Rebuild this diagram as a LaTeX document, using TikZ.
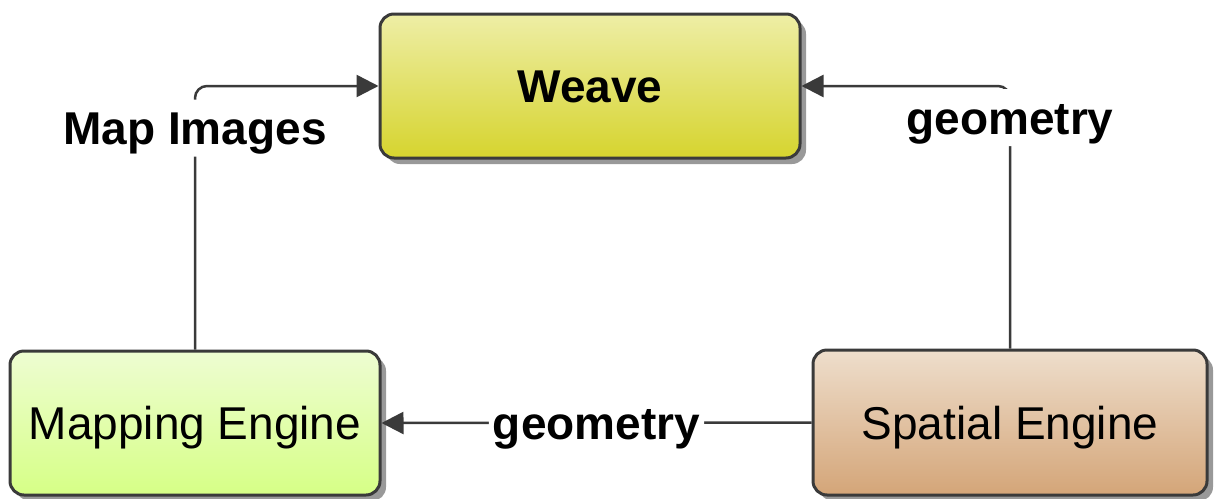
\documentclass[tikz,border=0pt]{standalone}
\usepackage{fontspec}
\setmainfont{Liberation Sans}
\usetikzlibrary{positioning, arrows.meta, shadows}

\definecolor{weavetop}{HTML}{EEEEA6}
\definecolor{weavebot}{HTML}{D6D42E}
\definecolor{maptop}{HTML}{EEFDD2}
\definecolor{mapbot}{HTML}{D6FF86}
\definecolor{spattop}{HTML}{EEDECC}
\definecolor{spatbot}{HTML}{D4A578}
\definecolor{edgegray}{HTML}{3A3A3A}

\begin{document}
\begin{tikzpicture}[
    font=\fontsize{23}{27}\selectfont,
    >={Triangle[length=11pt, width=11pt]},
    every node/.style={text height=16.5pt, text depth=0pt},
    block/.style={rectangle, rounded corners=7pt, draw=edgegray, line width=1.5pt, align=center,
        drop shadow={shadow xshift=3pt, shadow yshift=-3pt, fill=black!40, opacity=1}},
    arrow/.style={->, line width=1.25pt, draw=edgegray, rounded corners=6pt},
    tag/.style={fill=white, font=\fontsize{23}{27}\selectfont\bfseries, inner xsep=2pt, inner ysep=6pt}
]
\useasboundingbox (0pt,0pt) rectangle (607pt,-249pt);

% Nodes
\node[block, top color=weavetop, bottom color=weavebot, minimum width=210pt, minimum height=72pt,
    font=\fontsize{23}{27}\selectfont\bfseries] (weave) at (295pt,-43pt) {Weave};
\node[block, top color=maptop, bottom color=mapbot, minimum width=185pt, minimum height=72pt] (mapping) at (97.5pt,-211.5pt) {Mapping Engine};
\node[block, top color=spattop, bottom color=spatbot, minimum width=197pt, minimum height=72.5pt] (spatial) at (505pt,-211.25pt) {Spatial Engine};

% Connections
\draw[arrow] (mapping.north) |- node[tag, pos=0.42] {Map Images} (weave.west);
\draw[arrow] (spatial.north) |- node[tag, pos=0.44] {geometry} (weave.east);
\draw[arrow] (spatial.west) -- node[tag] {geometry} (mapping.east);

\end{tikzpicture}
\end{document}
